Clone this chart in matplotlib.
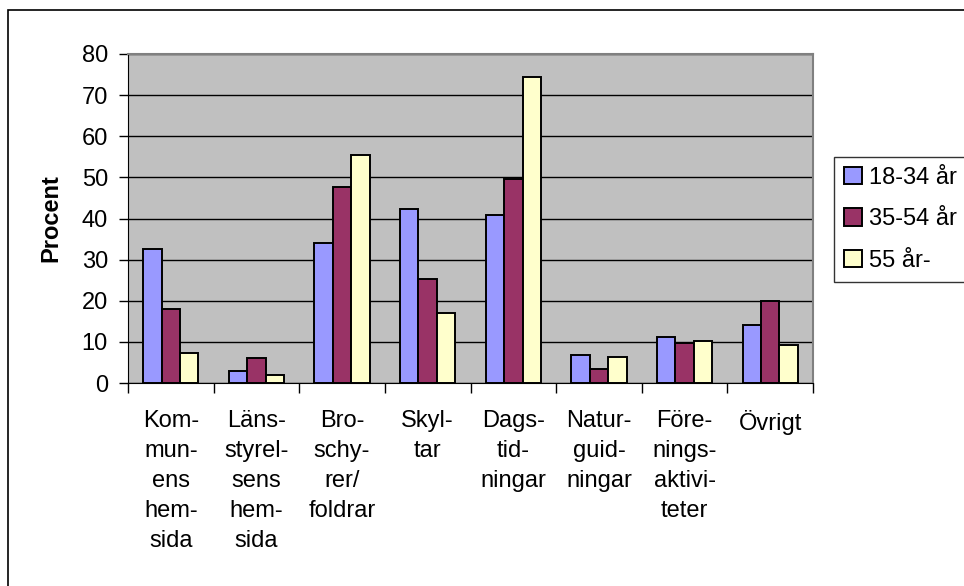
import numpy as np
import matplotlib.pyplot as plt
from matplotlib.patches import Rectangle

plt.rcParams['font.family'] = ['Liberation Sans', 'DejaVu Sans']

kategorier = ['Kom-\nmun-\nens\nhem-\nsida', 'Läns-\nstyrel-\nsens\nhem-\nsida',
              'Bro-\nschy-\nrer/\nfoldrar', 'Skyl-\ntar', 'Dags-\ntid-\nningar',
              'Natur-\nguid-\nningar', 'Före-\nnings-\naktivi-\nteter', 'Övrigt']
serier = ['18-34 år', '35-54 år', '55 år-']
v_18_34 = [32.6, 2.8, 34.0, 42.3, 40.8, 6.8, 11.2, 14.1]
v_35_54 = [17.9, 6.2, 47.7, 25.3, 49.6, 3.3, 9.8, 19.9]
v_55 = [7.2, 1.9, 55.4, 17.0, 74.4, 6.3, 10.2, 9.2]
farger = ['#9999FF', '#993366', '#FFFFCC']

fs = 17

fig = plt.figure(figsize=(9.64, 5.86), dpi=100)
ax = fig.add_axes([128/964, 1-383/586, (813-128)/964, (383-54)/586])
ax.set_facecolor('#C0C0C0')

x = np.arange(len(kategorier))
w = 0.215
for i, (vals, namn) in enumerate(zip([v_18_34, v_35_54, v_55], serier)):
    ax.bar(x + (i-1)*w, vals, w, color=farger[i], edgecolor='black',
           linewidth=1.4, label=namn, zorder=3)

ax.set_xlim(-0.5, len(kategorier)-0.5)
ax.set_ylim(0, 80)
ax.set_yticks(range(0, 81, 10))
ax.yaxis.grid(True, color='black', linewidth=1, zorder=0)
ax.tick_params(axis='y', labelsize=fs, length=6.5, direction='out', width=1, pad=8)

# tick marks between categories, labels centred under each group
ax.set_xticks(np.arange(-0.5, len(kategorier)))
ax.set_xticklabels([])
ax.tick_params(axis='x', length=7, width=1, direction='out')
for xi, lab in zip(x, kategorier):
    ax.text(xi, -6.5, lab, ha='center', va='top', fontsize=fs,
            linespacing=1.48)

for s in ['top', 'right']:
    ax.spines[s].set_color('#808080')
    ax.spines[s].set_linewidth(1.5)
for s in ['left', 'bottom']:
    ax.spines[s].set_color('black')

ax.set_ylabel('Procent', fontsize=fs, fontweight='bold', labelpad=14)

leg = ax.legend(loc='upper left', bbox_to_anchor=(834/964, 1-157/586),
                bbox_transform=fig.transFigure, fontsize=fs, frameon=True,
                fancybox=False, edgecolor='black', handlelength=0.75,
                handleheight=0.75, handletextpad=0.3, labelspacing=0.82,
                borderpad=0.42, borderaxespad=0)
leg.get_frame().set_linewidth(1)

fig.patches.append(Rectangle((8/964, -0.1), 1.2, 1.1 - 10/586,
                             transform=fig.transFigure, fill=False,
                             edgecolor='black', linewidth=1.2))

fig.savefig('out.png', dpi=100)
